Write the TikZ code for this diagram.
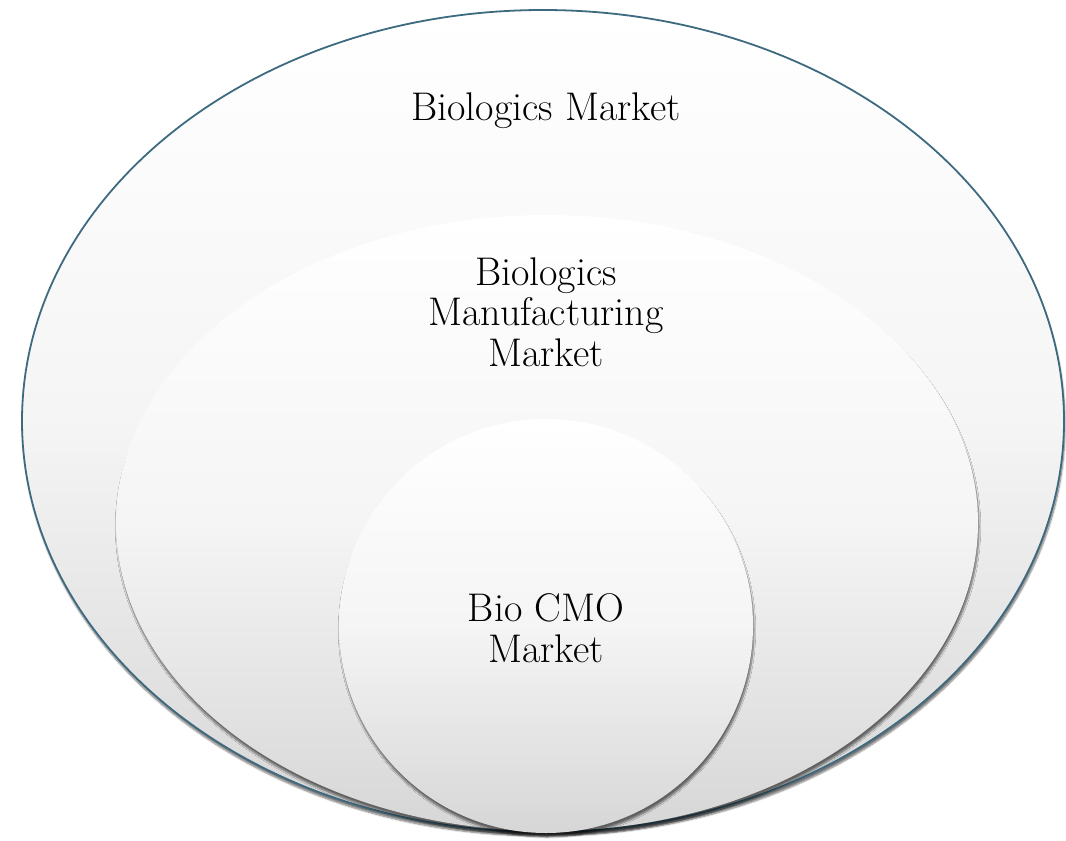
\documentclass[tikz,border=0pt]{standalone}
\usepackage{tikz}
\usetikzlibrary{shapes.geometric}
\usetikzlibrary{shadows.blur}
\definecolor{rimblue}{HTML}{3E6A80}
\tikzset{%
    ring/.style={ellipse,inner sep=0pt,top color=white,bottom color=black!16,
        middle color=black!4,
        blur shadow={shadow xshift=1pt,shadow yshift=-4pt,shadow blur steps=8,shadow opacity=55}},
    lbl/.style={align=center,font=\fontsize{40}{40.5}\selectfont}
}

\begin{document}
\begin{tikzpicture}[x=1pt,y=-1pt]
            \useasboundingbox (0,0) rectangle (1066,841);
            \node[ring,draw=rimblue,line width=1.8pt,minimum width=1042pt,minimum height=822pt] (biomkt) at (543,421){};
            \node[ring,minimum width=862pt,minimum height=616pt] (manmkt) at (547,523){};
            \node[ring,minimum width=414pt,minimum height=414pt] (cmomkt) at (546,626){};

            \node[lbl] (biolbl) at (546,111){Biologics Market};
            \node[lbl] (manlbl) at (546,312){Biologics\\Manufacturing\\Market};
            \node[lbl] (cmolbl) at (546,628){Bio CMO\\Market};
        \end{tikzpicture}
\end{document}
